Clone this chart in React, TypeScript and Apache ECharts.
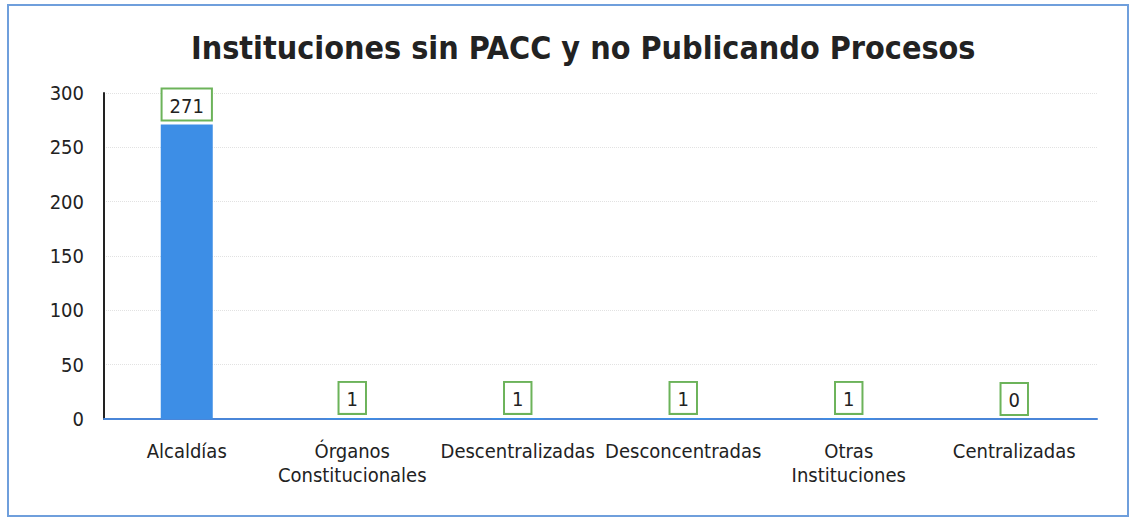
import React, { useEffect, useRef } from "react";
import * as echarts from "echarts";

const categories = [
  "Alcaldías",
  "Órganos\nConstitucionales",
  "Descentralizadas",
  "Desconcentradas",
  "Otras\nInstituciones",
  "Centralizadas",
];
const values = [271, 1, 1, 1, 1, 0];
const yTicks = [0, 50, 100, 150, 200, 250, 300];
const titleText = "Instituciones sin PACC y no Publicando Procesos";

export default function App() {
  const ref = useRef<HTMLDivElement>(null);
  useEffect(() => {
    if (!ref.current) return;
    const chart = echarts.init(ref.current, undefined, { renderer: "svg" });
    const font = "'DejaVu Sans Condensed', 'DejaVu Sans', sans-serif";
    chart.setOption({
      animation: false,
      backgroundColor: "#ffffff",
      title: {
        text: titleText,
        left: 186,
        top: 27,
        textStyle: {
          fontFamily: font,
          fontWeight: "bold",
          fontSize: 32,
          color: "#222222",
        },
      },
      graphic: [
        {
          type: "rect",
          shape: { x: 8, y: 5, width: 1120, height: 511 },
          style: { fill: "none", stroke: "#6f9fdc", lineWidth: 2 },
          silent: true,
        },
      ],
      grid: { left: 104, right: 34, top: 93, bottom: 100 },
      xAxis: {
        type: "category",
        data: categories,
        axisLine: { lineStyle: { color: "#4a86d8", width: 2 } },
        axisTick: { show: false },
        axisLabel: {
          fontFamily: font,
          fontSize: 20,
          color: "#222222",
          margin: 20,
          lineHeight: 24,
          interval: 0,
        },
      },
      yAxis: {
        type: "value",
        min: yTicks[0],
        max: yTicks[yTicks.length - 1],
        interval: 50,
        axisLine: { show: true, lineStyle: { color: "#222222", width: 2 } },
        axisTick: { show: false },
        axisLabel: {
          fontFamily: font,
          fontSize: 20,
          color: "#222222",
          margin: 20,
        },
        splitLine: {
          show: true,
          lineStyle: { color: "#e2e2e2", type: "dotted", width: 1 },
        },
      },
      series: [
        {
          type: "bar",
          data: values,
          barWidth: 52,
          itemStyle: { color: "#3d8ee6" },
          label: {
            show: true,
            position: "top",
            distance: 5,
            fontFamily: font,
            fontSize: 20,
            color: "#222222",
            backgroundColor: "#ffffff",
            borderColor: "#6cb35a",
            borderWidth: 2,
            padding: [6, 7, 4, 7],
          },
        },
      ],
    });
    return () => chart.dispose();
  }, []);
  return (
    <div
      ref={ref}
      style={{ position: "fixed", left: 0, top: 0, width: 1131, height: 519 }}
    />
  );
}
